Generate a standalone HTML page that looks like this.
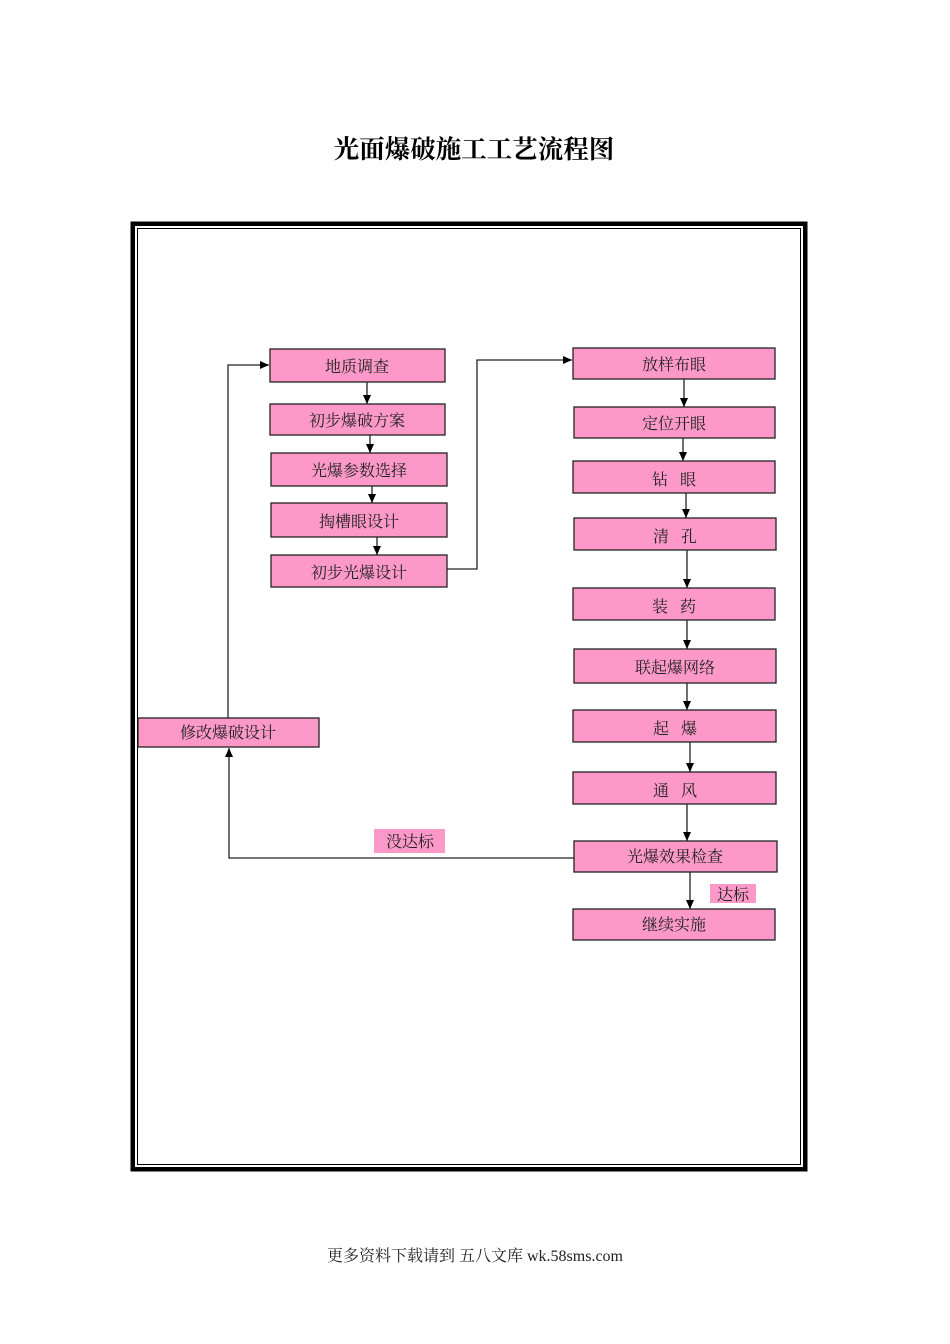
<!DOCTYPE html>
<html><head><meta charset="utf-8"><style>
html,body{margin:0;padding:0;background:#fff;width:950px;height:1344px;overflow:hidden}
svg text{font-family:"Liberation Serif","Noto Serif CJK SC","Noto Sans CJK SC",serif}
</style></head><body>
<svg width="950" height="1344" viewBox="0 0 950 1344" xmlns="http://www.w3.org/2000/svg">
<defs><marker id="a" markerWidth="10" markerHeight="10" refX="9" refY="5" orient="auto" markerUnits="userSpaceOnUse"><path d="M0,1 L9,5 L0,9 Z" fill="#000"/></marker></defs>
<text x="474" y="158" font-size="25.5" font-weight="bold" text-anchor="middle" fill="#000">光面爆破施工工艺流程图</text>
<rect x="133" y="224" width="672" height="945" fill="none" stroke="#000" stroke-width="4"/>
<rect x="131" y="222" width="676" height="949" fill="none" stroke="#000" stroke-width="1"/>
<rect x="137.5" y="228.5" width="663" height="936" fill="none" stroke="#000" stroke-width="1"/>
<g fill="#fd99c9" stroke="#222" stroke-width="1.3">
<rect x="270" y="349" width="175" height="33"/>
<rect x="270" y="404" width="175" height="31"/>
<rect x="271" y="453" width="176" height="33"/>
<rect x="271" y="503" width="176" height="34"/>
<rect x="271" y="555" width="176" height="32"/>
<rect x="573" y="348" width="202" height="31"/>
<rect x="574" y="407" width="201" height="31"/>
<rect x="573" y="461" width="202" height="32"/>
<rect x="574" y="518" width="202" height="32"/>
<rect x="573" y="588" width="202" height="32"/>
<rect x="574" y="649" width="202" height="34"/>
<rect x="573" y="710" width="203" height="32"/>
<rect x="573" y="772" width="203" height="32"/>
<rect x="574" y="841" width="203" height="31"/>
<rect x="573" y="909" width="202" height="31"/>
<rect x="138" y="718" width="181" height="29"/>
</g>
<rect x="374" y="829" width="71" height="24" fill="#fd99c9"/>
<rect x="710" y="884" width="46" height="19" fill="#fd99c9"/>
<g font-size="16" text-anchor="middle" fill="#222">
<text x="357" y="372">地质调查</text>
<text x="357" y="426">初步爆破方案</text>
<text x="359" y="476">光爆参数选择</text>
<text x="359" y="527">掏槽眼设计</text>
<text x="359" y="578">初步光爆设计</text>
<text x="674" y="370">放样布眼</text>
<text x="674" y="429">定位开眼</text>
<text x="674" y="485" xml:space="preserve">钻   眼</text>
<text x="675" y="542" xml:space="preserve">清   孔</text>
<text x="674" y="612" xml:space="preserve">装   药</text>
<text x="675" y="673">联起爆网络</text>
<text x="675" y="734" xml:space="preserve">起   爆</text>
<text x="675" y="796" xml:space="preserve">通   风</text>
<text x="675" y="862">光爆效果检查</text>
<text x="674" y="930">继续实施</text>
<text x="228" y="738">修改爆破设计</text>
<text x="410" y="847">没达标</text>
<text x="733" y="900">达标</text>
</g>
<g stroke="#222" stroke-width="1.3" fill="none" marker-end="url(#a)">
<path d="M367,382 V404"/>
<path d="M370,435 V453"/>
<path d="M372,486 V503"/>
<path d="M377,537 V555"/>
<path d="M447,569 H477 V360 H572"/>
<path d="M684,379 V407"/>
<path d="M683,438 V461"/>
<path d="M686,493 V518"/>
<path d="M687,550 V588"/>
<path d="M687,620 V649"/>
<path d="M687,683 V710"/>
<path d="M690,742 V772"/>
<path d="M687,804 V841"/>
<path d="M690,872 V909"/>
<path d="M228,718 V365 H269"/>
<path d="M574,858 H229 V748"/>
</g>
<text x="475" y="1261" font-size="16" text-anchor="middle" fill="#222">更多资料下载请到 五八文库 wk.58sms.com</text>
</svg>
</body></html>
